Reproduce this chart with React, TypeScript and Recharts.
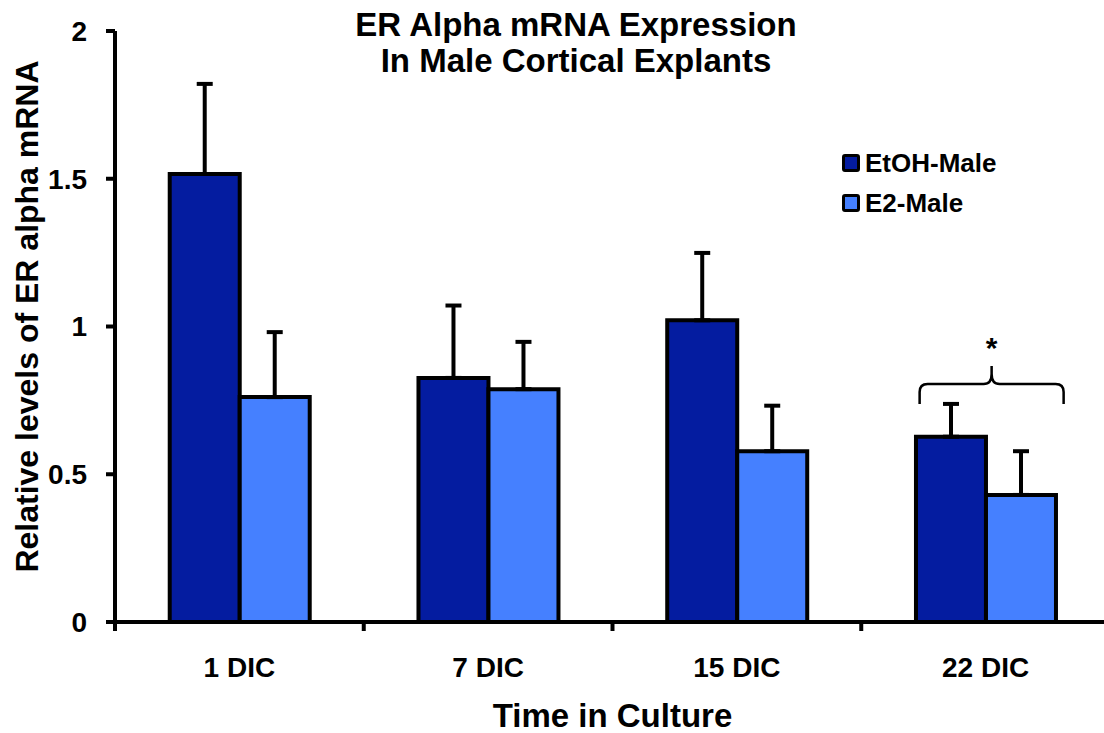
import React from 'react'
import { BarChart, Bar, XAxis, YAxis, ErrorBar, ReferenceDot, Label } from 'recharts'

const categories = ['1 DIC', '7 DIC', '15 DIC', '22 DIC']
const seriesNames = ['EtOH-Male', 'E2-Male']
const etohMale = [1.516, 0.826, 1.021, 0.627]
const etohErr = [0.305, 0.245, 0.228, 0.111]
const e2Male = [0.761, 0.788, 0.578, 0.43]
const e2Err = [0.22, 0.16, 0.154, 0.148]
const yTicks = [0, 0.5, 1, 1.5, 2]

const data = categories.map((c, i) => ({
  name: c,
  etoh: etohMale[i],
  etohErr: [0, etohErr[i]],
  e2: e2Male[i],
  e2Err: [0, e2Err[i]],
}))

const FONT = '"Liberation Sans", Arial, sans-serif'
const DARK = '#041ca0'
const LIGHT = '#4580ff'
const seriesColors = [DARK, LIGHT]
const TICK_GAP = 35

// category label plus a tick mark on the left boundary of its band
const CatTick = (props: any) => {
  const { x, y, payload } = props
  const half = payload && payload.offset ? payload.offset : 124
  const axisY = y - TICK_GAP
  return (
    <g>
      <line x1={x - half} x2={x - half} y1={axisY} y2={axisY + 9} stroke="#000" strokeWidth={4} />
      <text
        x={x}
        y={y}
        dy="0.71em"
        textAnchor="middle"
        fill="#000"
        fontFamily={FONT}
        fontWeight="bold"
        fontSize={28}
      >
        {payload.value}
      </text>
    </g>
  )
}

const Brace = (props: any) => {
  const { cx, cy } = props
  const x = cx + 6
  const half = 72
  const d = `M ${x - half} ${cy + 20} L ${x - half} ${cy + 8} Q ${x - half} ${cy} ${x - half + 8} ${cy}
    L ${x - 8} ${cy} Q ${x} ${cy} ${x} ${cy - 10} L ${x} ${cy - 18}
    M ${x} ${cy - 10} Q ${x} ${cy} ${x + 8} ${cy}
    L ${x + half - 8} ${cy} Q ${x + half} ${cy} ${x + half} ${cy + 8} L ${x + half} ${cy + 20}`
  return (
    <g>
      <path d={d} fill="none" stroke="#000" strokeWidth={2.5} />
      <text x={x} y={cy - 26} textAnchor="middle" fontFamily={FONT} fontWeight="bold" fontSize={30}>
        *
      </text>
    </g>
  )
}

const YLabel = ({ viewBox }: any) => {
  const x = 27
  const y = viewBox.y + viewBox.height / 2 - 10
  return (
    <text
      x={x}
      y={y}
      transform={`rotate(-90 ${x} ${y})`}
      textAnchor="middle"
      dominantBaseline="central"
      fontFamily={FONT}
      fontWeight="bold"
      fontSize={32}
    >
      Relative levels of ER alpha mRNA
    </text>
  )
}

export default function App() {
  return (
    <div style={{ position: 'absolute', left: 0, top: 0, width: 1104, height: 733, overflow: 'hidden', background: '#fff' }}>
      <div
        style={{
          position: 'absolute',
          left: 0,
          top: 7,
          width: 1152,
          textAlign: 'center',
          fontFamily: FONT,
          fontWeight: 'bold',
          fontSize: 33,
          lineHeight: '36px',
          zIndex: 2,
        }}
      >
        ER Alpha mRNA Expression
        <br />
        In Male Cortical Explants
      </div>
      <div
        style={{
          position: 'absolute',
          left: 842,
          top: 143,
          fontFamily: FONT,
          fontWeight: 'bold',
          fontSize: 26,
          zIndex: 2,
        }}
      >
        {seriesNames.map((n, i) => (
          <div key={n} style={{ display: 'flex', alignItems: 'center', height: 40 }}>
            <span
              style={{
                display: 'inline-block',
                width: 12,
                height: 12,
                background: seriesColors[i],
                border: '3px solid #000',
                borderRadius: 3,
                marginRight: 5,
              }}
            />
            <span>{n}</span>
          </div>
        ))}
      </div>
      <BarChart
        width={1110}
        height={733}
        data={data}
        margin={{ top: 31, right: 0, bottom: 0, left: 0 }}
        barCategoryGap="22%"
        barGap={0}
      >
        <XAxis
          dataKey="name"
          height={111}
          axisLine={{ stroke: '#000', strokeWidth: 4 }}
          tickLine={false}
          tickSize={0}
          tickMargin={TICK_GAP}
          interval={0}
          tick={<CatTick />}
        >
          <Label
            value="Time in Culture"
            position="insideBottom"
            offset={6}
            style={{ fill: '#000', fontFamily: FONT, fontWeight: 'bold', fontSize: 33 }}
          />
        </XAxis>
        <YAxis
          width={115}
          domain={[0, 2]}
          ticks={yTicks}
          interval={0}
          axisLine={{ stroke: '#000', strokeWidth: 4 }}
          tickLine={{ stroke: '#000', strokeWidth: 4 }}
          tickSize={9}
          tickMargin={19}
          tick={{ fill: '#000', fontFamily: FONT, fontWeight: 'bold', fontSize: 28 }}
          label={{ content: YLabel }}
        />
        <Bar dataKey="etoh" name={seriesNames[0]} fill={DARK} stroke="#000" strokeWidth={4} isAnimationActive={false}>
          <ErrorBar dataKey="etohErr" width={8} stroke="#000" strokeWidth={4} direction="y" />
        </Bar>
        <Bar dataKey="e2" name={seriesNames[1]} fill={LIGHT} stroke="#000" strokeWidth={4} isAnimationActive={false}>
          <ErrorBar dataKey="e2Err" width={8} stroke="#000" strokeWidth={4} direction="y" />
        </Bar>
        <ReferenceDot x="22 DIC" y={0.805} shape={<Brace />} ifOverflow="visible" />
      </BarChart>
    </div>
  )
}
